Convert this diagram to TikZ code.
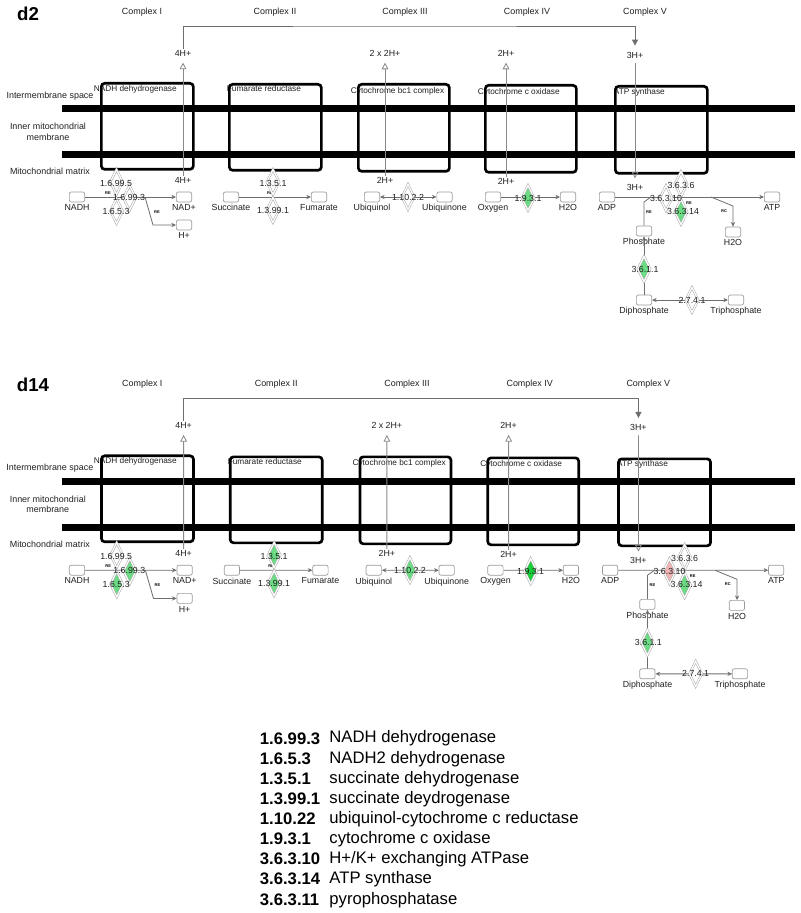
\documentclass[tikz,border=0pt]{standalone}
\usepackage{fontspec}
\setmainfont{Liberation Sans}
\usetikzlibrary{shapes.geometric,arrows.meta}

\definecolor{lgreen}{HTML}{6CDC84}
\definecolor{dgreen}{HTML}{18D03A}
\definecolor{lpink}{HTML}{F2B4B4}
\definecolor{lnc}{HTML}{6E6E6E}
\definecolor{hlc}{HTML}{8A8A8A}
\definecolor{boxc}{HTML}{9A9A9A}
\definecolor{txc}{HTML}{202020}

\tikzset{
  every node/.style={font=\fontsize{6.6}{7.6}\selectfont, text=txc, inner sep=0.5pt},
  cmp/.style={font=\fontsize{6.7}{8}\selectfont},
  ctitle/.style={anchor=west, font=\fontsize{6.2}{7}\selectfont},
  cbox/.style={draw=black, line width=2pt, rounded corners=2.5pt, anchor=north west, inner sep=0pt},
  mol/.style={draw=boxc, line width=0.5pt, rounded corners=1.5pt, fill=white,
              minimum width=11.5pt, minimum height=7.5pt, inner sep=0pt},
  mlab/.style={inner sep=0.5pt},
  label distance=1pt,
  enz/.style={diamond, shape aspect=0.5, inner sep=0pt, minimum width=9.4pt,
              minimum height=19pt, draw=gray!65, double=white, double distance=0.9pt, fill=#1},
  enz/.default=white,
  elab/.style={font=\fontsize{6.6}{7.6}\selectfont},
  relab/.style={font=\fontsize{3}{3}\bfseries\selectfont, text=black, inner sep=0pt},
  rxn/.style={draw=lnc, line width=0.6pt},
  hline/.style={draw=hlc, line width=0.6pt},
  tip/.style={-{Stealth[length=3.5pt,width=3.2pt]}},
  tips/.style={{Stealth[length=3.5pt,width=3.2pt]}-{Stealth[length=3.5pt,width=3.2pt]}},
  opentip/.style={-{Triangle[open,length=5pt,width=5pt]}},
  filltip/.style={-{Triangle[length=4.5pt,width=4.5pt]}},
  legcode/.style={anchor=west, font=\fontsize{12.5}{14}\bfseries\selectfont, text=black},
  legname/.style={anchor=west, font=\fontsize{12.5}{14}\selectfont, text=black},
  panlab/.style={font=\fontsize{14}{16}\bfseries\selectfont, text=black},
}

\newcommand\mitopanel[1]{%
  % membrane bars
  \fill[black] (62,105) rectangle (#1,112);
  \fill[black] (62,151) rectangle (#1,158);
  % compartment labels
  \node[cmp] (is) at (50,96) {Intermembrane space};
  \node[cmp, align=center] (im) at (48,131.5) {Inner mitochondrial\\membrane};
  \node[cmp] (mm) at (50,171) {Mitochondrial matrix};
  % complex headings
  \node[cmp] (cx1) at (142,12) {Complex I};
  \node[cmp] (cx2) at (275,12) {Complex II};
  \node[cmp] (cx3) at (405,12) {Complex III};
  \node[cmp] (cx4) at (527,12) {Complex IV};
  \node[cmp] (cx5) at (645,12) {Complex V};
  % complex titles
  \node[ctitle] (t1) at (93,89) {NADH dehydrogenase};
  \node[ctitle] (t2) at (226,89) {Fumarate reductase};
  \node[ctitle] (t3) at (350,91) {Cytochrome bc1 complex};
  \node[ctitle] (t4) at (477,92) {Cytochrome c oxidase};
  \node[ctitle] (t5) at (613,92) {ATP synthase};
  % complex boxes
  \node[cbox, minimum width=69pt, minimum height=64.5pt] (b1) at (100,82) {};
  \node[cbox, minimum width=69pt, minimum height=64.5pt] (b2) at (228,83) {};
  \node[cbox, minimum width=68.25pt, minimum height=65.25pt] (b3) at (357,83) {};
  \node[cbox, minimum width=68.25pt, minimum height=65.25pt] (b4) at (484,84) {};
  \node[cbox, minimum width=69pt, minimum height=65.25pt] (b5) at (614,85) {};
  % proton labels
  \node (p1t) at (183,53) {4H+};
  \node (p1b) at (183,180) {4H+};
  \node (p3t) at (385,53) {2 x 2H+};
  \node (p3b) at (385,180) {2H+};
  \node (p4t) at (506,53) {2H+};
  \node (p4b) at (506,181) {2H+};
  \node (p5t) at (635,55) {3H+};
  \node (p5b) at (635,187) {3H+};
  % proton lines
  \draw[hline, opentip, shorten >=4.2pt] (p1b) -- (p1t);
  \draw[hline, opentip, shorten >=4.2pt] (p3b) -- (p3t);
  \draw[hline, opentip, shorten >=4.2pt] (p4b) -- (p4t);
  \draw[hline, opentip, shorten <=3pt, shorten >=3.4pt] (p5t) -- (p5b);
  \coordinate (br) at (400,26);
  \draw[rxn, filltip, shorten >=4pt] (p1t.north) |- (br) -| (p5t.north);
  % small molecules
  \node[mol, label={[mlab]below:NADH}] (nadh) at (77,197) {};
  \node[mol, label={[mlab]below:NAD+}] (nadp) at (184,197) {};
  \node[mol, label={[mlab]below:H+}] (hp) at (184,225) {};
  \node[mol, label={[mlab]below:Succinate}] (succ) at (231,197) {};
  \node[mol, label={[mlab]below:Fumarate}] (fum) at (319,197) {};
  \node[mol, label={[mlab]below:Ubiquinol}] (ubol) at (372,197) {};
  \node[mol, label={[mlab]below:Ubiquinone}] (ubone) at (444.5,197) {};
  \node[mol, label={[mlab]below:Oxygen}] (oxy) at (493,197) {};
  \node[mol, label={[mlab]below:H2O}] (wat4) at (568,197) {};
  \node[mol, label={[mlab]below:ADP}] (adp) at (607,197) {};
  \node[mol, label={[mlab]below:ATP}] (atp) at (772,197) {};
  \node[mol, label={[mlab]below:H2O}] (wat5) at (733,232) {};
  \node[mol, label={[mlab]below:Phosphate}] (pho) at (644,231) {};
  \node[mol, label={[mlab]below:Diphosphate}] (dip) at (644,300) {};
  \node[mol, label={[mlab]below:Triphosphate}] (trip) at (736,300) {};
  % reactions
  \draw[rxn, tip] (nadh) -- (nadp);
  \coordinate (k1) at (145,197);
  \coordinate (k1b) at (153,225);
  \draw[rxn, tip] (k1) -- (k1b) -- (hp);
  \draw[rxn, tip] (succ) -- (fum);
  \draw[rxn, tips] (ubol) -- (ubone);
  \draw[rxn, tip] (oxy) -- (wat4);
  \draw[rxn, tip] (adp) -- (atp);
  \coordinate (k5) at (711,197);
  \coordinate (k5b) at (733,206);
  \draw[rxn, tip] (k5) -- (k5b) -- (wat5);
  \coordinate (k6) at (644,202);
  \coordinate (k6b) at (651,197);
  \draw[rxn] (pho) -- (k6) -- (k6b);
  \draw[rxn, tip] (dip) -- (pho);
  \draw[rxn, tips] (dip) -- (trip);
  % small reaction tags
  \node[relab] (r1) at (108,193) {RE};
  \node[relab] (r2) at (157,212) {RE};
  \node[relab] (r3) at (270,193) {RE};
  \node[relab] (r4) at (649,212) {RE};
  \node[relab] (r6) at (724,211) {RC};
  % enzymes
  \node[enz=eA] (e1) at (116.5,182) {};
  \node[enz=eC] (e3) at (116.5,211) {};
  \node[enz=eB] (e2) at (129.5,198) {};
  \node[enz=eD] (e4) at (273,182) {};
  \node[enz=eE] (e5) at (273,210) {};
  \node[enz=eF] (e6) at (408,197) {};
  \node[enz=eG] (e7) at (528,198) {};
  \node[enz=eH] (e8) at (681,184) {};
  \node[enz=eI] (e9) at (666,198) {};
  \node[enz=eJ] (e10) at (681,212) {};
  \node[enz=eK] (e11) at (644,269) {};
  \node[enz=eL] (e12) at (692,300) {};
  \node[relab] (r5) at (689,203) {RE};
  % enzyme labels
  \node[elab] (l1) at (116,183) {1.6.99.5};
  \node[elab] (l2) at (129,197) {1.6.99.3};
  \node[elab] (l3) at (116,211) {1.6.5.3};
  \node[elab] (l4) at (273,183) {1.3.5.1};
  \node[elab] (l5) at (273,210) {1.3.99.1};
  \node[elab] (l6) at (408,197) {1.10.2.2};
  \node[elab] (l7) at (528,198) {1.9.3.1};
  \node[elab] (l8) at (681,185) {3.6.3.6};
  \node[elab] (l9) at (666,198) {3.6.3.10};
  \node[elab] (l10) at (683,211) {3.6.3.14};
  \node[elab] (l11) at (645,269) {3.6.1.1};
  \node[elab] (l12) at (692,300) {2.7.4.1};
}

\begin{document}
\begin{tikzpicture}[x=0.75pt, y=-0.75pt]
\useasboundingbox (0,0) rectangle (800,913);
\fill[white] (0,0) rectangle (800,913);

% panel d2
\node[panlab] (d2) at (28,14) {d2};
\colorlet{eA}{white}\colorlet{eB}{white}\colorlet{eC}{white}
\colorlet{eD}{white}\colorlet{eE}{white}\colorlet{eF}{white}
\colorlet{eG}{lgreen}\colorlet{eH}{white}\colorlet{eI}{white}
\colorlet{eJ}{lgreen}\colorlet{eK}{lgreen}\colorlet{eL}{white}
\begin{scope}[name prefix=a-]
\mitopanel{795}
\end{scope}

% panel d14
\node[panlab] (d14) at (33,385) {d14};
\colorlet{eA}{white}\colorlet{eB}{lgreen}\colorlet{eC}{lgreen}
\colorlet{eD}{lgreen}\colorlet{eE}{lgreen}\colorlet{eF}{lgreen}
\colorlet{eG}{dgreen}\colorlet{eH}{white}\colorlet{eI}{lpink}
\colorlet{eJ}{lgreen}\colorlet{eK}{lgreen}\colorlet{eL}{white}
\begin{scope}[name prefix=b-, shift={(-0.5,372)}, scale=1.006]
\mitopanel{790.8}
\end{scope}

% legend
\node[legcode] (c1) at (259,738.5) {1.6.99.3};
\node[legname] (n1) at (328.5,738.5) {NADH dehydrogenase};
\node[legcode] (c2) at (259,759) {1.6.5.3};
\node[legname] (n2) at (328.5,759) {NADH2 dehydrogenase};
\node[legcode] (c3) at (259,779) {1.3.5.1};
\node[legname] (n3) at (328.5,779) {succinate dehydrogenase};
\node[legcode] (c4) at (259,799) {1.3.99.1};
\node[legname] (n4) at (328.5,799) {succinate deydrogenase};
\node[legcode] (c5) at (259,819) {1.10.22};
\node[legname] (n5) at (328.5,819) {ubiquinol-cytochrome c reductase};
\node[legcode] (c6) at (259,839) {1.9.3.1};
\node[legname] (n6) at (328.5,839) {cytochrome c oxidase};
\node[legcode] (c7) at (259,859) {3.6.3.10};
\node[legname] (n7) at (328.5,859) {H+/K+ exchanging ATPase};
\node[legcode] (c8) at (259,879) {3.6.3.14};
\node[legname] (n8) at (328.5,879) {ATP synthase};
\node[legcode] (c9) at (259,900) {3.6.3.11};
\node[legname] (n9) at (328.5,900) {pyrophosphatase};
\end{tikzpicture}
\end{document}
